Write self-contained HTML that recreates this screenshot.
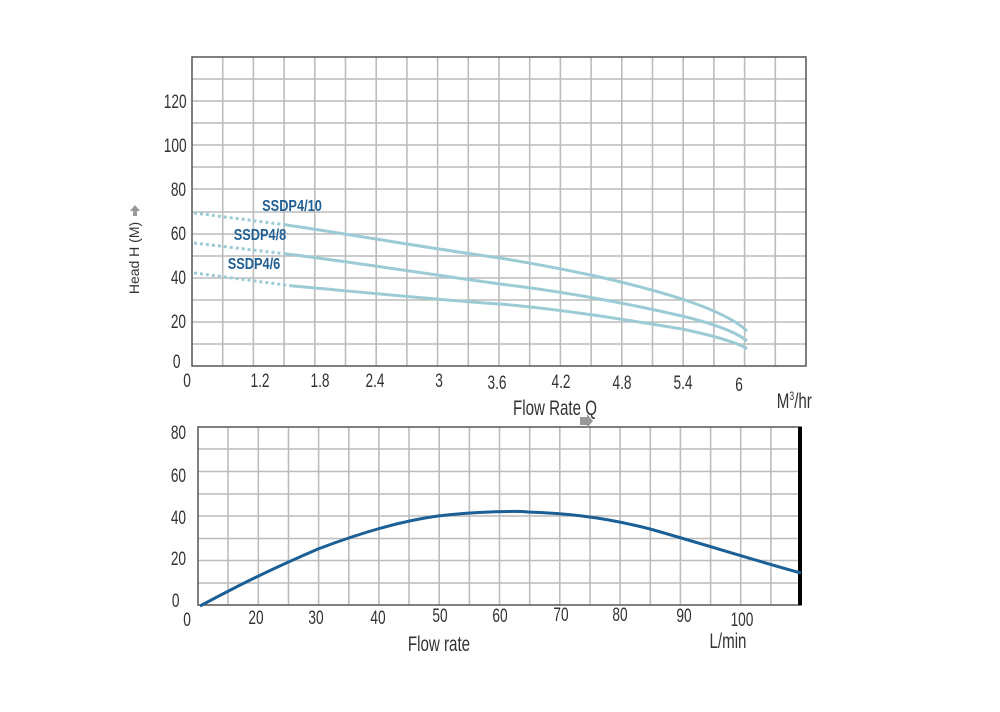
<!DOCTYPE html>
<html><head><meta charset="utf-8"><style>
html,body{margin:0;padding:0;background:#fff;}
svg{display:block;}
text{font-family:"Liberation Sans Narrow","Liberation Sans",sans-serif;fill:#333;}
.c text,text.c{transform-box:fill-box;transform-origin:center;transform:scaleX(0.72);}
.s text{transform-box:fill-box;transform-origin:center;transform:scaleX(0.8);}
</style></head><body>
<svg width="1000" height="712" viewBox="0 0 1000 712" xmlns="http://www.w3.org/2000/svg">
<g stroke="#bcbcbc" stroke-width="1.6">
<line x1="222.7" y1="57" x2="222.7" y2="366"/><line x1="253.4" y1="57" x2="253.4" y2="366"/><line x1="284.1" y1="57" x2="284.1" y2="366"/><line x1="314.8" y1="57" x2="314.8" y2="366"/><line x1="345.5" y1="57" x2="345.5" y2="366"/><line x1="376.2" y1="57" x2="376.2" y2="366"/><line x1="406.9" y1="57" x2="406.9" y2="366"/><line x1="437.6" y1="57" x2="437.6" y2="366"/><line x1="468.3" y1="57" x2="468.3" y2="366"/><line x1="499" y1="57" x2="499" y2="366"/><line x1="529.7" y1="57" x2="529.7" y2="366"/><line x1="560.4" y1="57" x2="560.4" y2="366"/><line x1="591.1" y1="57" x2="591.1" y2="366"/><line x1="621.8" y1="57" x2="621.8" y2="366"/><line x1="652.5" y1="57" x2="652.5" y2="366"/><line x1="683.2" y1="57" x2="683.2" y2="366"/><line x1="713.9" y1="57" x2="713.9" y2="366"/><line x1="744.6" y1="57" x2="744.6" y2="366"/><line x1="775.3" y1="57" x2="775.3" y2="366"/>
<line x1="192" y1="79" x2="806" y2="79"/><line x1="192" y1="101" x2="806" y2="101"/><line x1="192" y1="123" x2="806" y2="123"/><line x1="192" y1="145" x2="806" y2="145"/><line x1="192" y1="167" x2="806" y2="167"/><line x1="192" y1="189" x2="806" y2="189"/><line x1="192" y1="212" x2="806" y2="212"/><line x1="192" y1="234" x2="806" y2="234"/><line x1="192" y1="256" x2="806" y2="256"/><line x1="192" y1="278" x2="806" y2="278"/><line x1="192" y1="300" x2="806" y2="300"/><line x1="192" y1="322" x2="806" y2="322"/><line x1="192" y1="344" x2="806" y2="344"/>
<line x1="228" y1="427" x2="228" y2="605"/><line x1="258.3" y1="427" x2="258.3" y2="605"/><line x1="288.5" y1="427" x2="288.5" y2="605"/><line x1="318.6" y1="427" x2="318.6" y2="605"/><line x1="348.8" y1="427" x2="348.8" y2="605"/><line x1="378.9" y1="427" x2="378.9" y2="605"/><line x1="409" y1="427" x2="409" y2="605"/><line x1="439.2" y1="427" x2="439.2" y2="605"/><line x1="469.4" y1="427" x2="469.4" y2="605"/><line x1="499.5" y1="427" x2="499.5" y2="605"/><line x1="529.7" y1="427" x2="529.7" y2="605"/><line x1="559.8" y1="427" x2="559.8" y2="605"/><line x1="590" y1="427" x2="590" y2="605"/><line x1="620.1" y1="427" x2="620.1" y2="605"/><line x1="650.3" y1="427" x2="650.3" y2="605"/><line x1="680.4" y1="427" x2="680.4" y2="605"/><line x1="710.6" y1="427" x2="710.6" y2="605"/><line x1="740.7" y1="427" x2="740.7" y2="605"/><line x1="770.9" y1="427" x2="770.9" y2="605"/>
<line x1="198" y1="449" x2="801" y2="449"/><line x1="198" y1="471.5" x2="801" y2="471.5"/><line x1="198" y1="494" x2="801" y2="494"/><line x1="198" y1="516" x2="801" y2="516"/><line x1="198" y1="538.5" x2="801" y2="538.5"/><line x1="198" y1="560.5" x2="801" y2="560.5"/><line x1="198" y1="583" x2="801" y2="583"/>
</g>
<rect x="192" y="57" width="614" height="309" fill="none" stroke="#555" stroke-width="1.5"/>
<rect x="198" y="427" width="603" height="178" fill="none" stroke="#555" stroke-width="1.5"/>
<line x1="800" y1="427" x2="800" y2="605" stroke="#000" stroke-width="4"/>

<g fill="none" stroke="#9ccbd6" stroke-width="3">
<path d="M194 213 L287 225" stroke-dasharray="3 3"/>
<path d="M287 225 C360 236 440 250 500 258 C560 268 622 280 682 299 C715 310 735 320 746 330" stroke-linecap="round"/>
<path d="M194 243 L287 254" stroke-dasharray="3 3"/>
<path d="M287 254 C360 263 440 276 500 284 C560 291 621 302 682 316 C715 324 735 332 746 340" stroke-linecap="round"/>
<path d="M194 273 L293 286" stroke-dasharray="3 3"/>
<path d="M293 286 C360 292 440 300 500 304 C560 309 621 319 682 329 C715 336 735 342 746 348" stroke-linecap="round"/>
</g>
<path d="M200 606 C230 590 260 574 318 549 C360 533 400 521 438 516 C480 511 520 511 528 512 C560 513 600 516 650 529 C700 543 760 562 801 573" fill="none" stroke="#1a5f96" stroke-width="3"/>

<g class="s" font-weight="bold" font-size="16" text-anchor="middle">
<text x="292" y="211" style="fill:#1f5f94">SSDP4/10</text>
<text x="260" y="240" style="fill:#1f5f94">SSDP4/8</text>
<text x="254" y="269" style="fill:#1f5f94">SSDP4/6</text>
</g>

<g class="c" font-size="19" text-anchor="end">
<text x="191" y="108">120</text><text x="191" y="152">100</text><text x="189" y="196">80</text><text x="189" y="240">60</text><text x="189" y="284">40</text><text x="189" y="328">20</text><text x="182" y="368">0</text>
</g>
<g class="c" font-size="19" text-anchor="middle">
<text x="187" y="387">0</text><text x="260" y="387">1.2</text><text x="320" y="387">1.8</text><text x="375" y="387">2.4</text><text x="439" y="387">3</text><text x="497" y="389">3.6</text><text x="561" y="388">4.2</text><text x="622" y="389">4.8</text><text x="683" y="389">5.4</text><text x="739" y="391">6</text>
</g>
<g class="c" font-size="21">
<text x="770" y="408">M<tspan font-size="12" dy="-8">3</tspan><tspan dy="8">/hr</tspan></text>
<text x="555" y="415" text-anchor="middle">Flow Rate Q</text>
</g>
<path d="M580 417 h7 v-3 l6 7 l-6 7 v-3 h-7z" fill="#999"/>
<text transform="translate(139,258) rotate(-90)" font-size="14" text-anchor="middle" style="font-family:'Liberation Sans',sans-serif">Head H (M)</text>
<path d="M135 205 l5 6 h-3 v5 h-4 v-5 h-3z" fill="#999"/>

<g class="c" font-size="19" text-anchor="end">
<text x="189" y="439">80</text><text x="189" y="482">60</text><text x="189" y="524">40</text><text x="189" y="565">20</text><text x="181" y="607">0</text>
</g>
<g class="c" font-size="19" text-anchor="middle">
<text x="187" y="626">0</text><text x="256" y="624">20</text><text x="316" y="624">30</text><text x="378" y="624">40</text><text x="440" y="622">50</text><text x="500" y="622">60</text><text x="561" y="621">70</text><text x="620" y="621">80</text><text x="684" y="622">90</text><text x="742" y="626">100</text>
</g>
<g class="c" font-size="21" text-anchor="middle">
<text x="439" y="651">Flow rate</text>
<text x="728" y="648">L/min</text>
</g>
</svg>
</body></html>
